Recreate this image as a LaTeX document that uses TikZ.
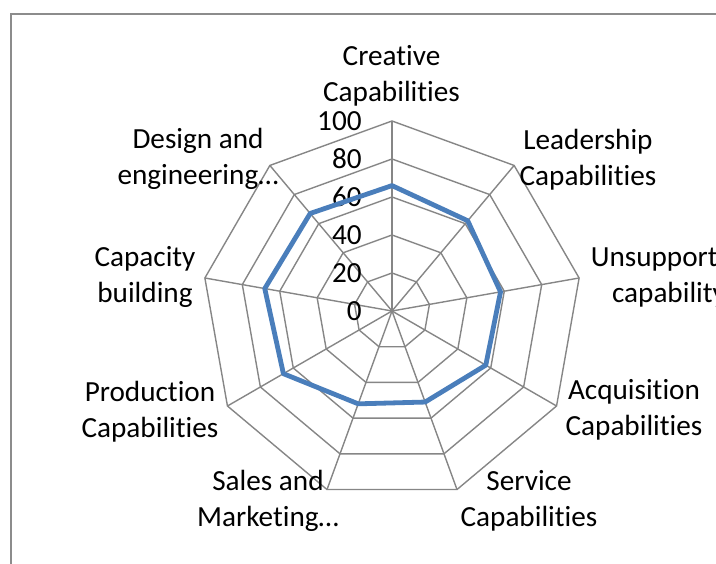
\documentclass[tikz,border=0pt]{standalone}
\usepackage{fontspec}
\setmainfont{Carlito}[Ligatures=NoCommon]
\usepackage{xcolor}
\usepackage{tikz}

\definecolor{gridgray}{RGB}{134,134,134}
\definecolor{framegray}{RGB}{140,140,140}
\definecolor{serieblue}{RGB}{74,126,187}

\tikzset{
  gridline/.style={draw=gridgray, line width=0.7bp, line join=miter},
  valaxis/.style={draw=gridgray, line width=1bp},
  serie/.style={draw=serieblue, line width=2.4bp, line join=round},
  lbl/.style={align=center, inner sep=0pt, font=\fontsize{14.6bp}{18bp}\selectfont},
  tick/.style={anchor=east, inner sep=0pt, font=\fontsize{14.6bp}{18bp}\selectfont}
}

\begin{document}
\begin{tikzpicture}[x=0.5bp,y=0.5bp]
                    \clip (0,0) rectangle (716,564);
                    \draw[framegray, line width=1bp] (11,0) -- (11,550) -- (716,550);
                    \begin{scope}[shift={(392,253)}]
                    \coordinate (c) at (0,0);
                    % rings at 20, 40, 60, 80, 100
                    \foreach \r in {38,76,114,152,190}
                        \draw[gridline] (90:\r) -- (50:\r) -- (10:\r) -- (-30:\r) -- (-70:\r)
                            -- (-110:\r) -- (-150:\r) -- (-190:\r) -- (-230:\r) -- cycle;
                    % spokes
                    \foreach \a in {50,10,-30,-70,-110,-150,-190,-230}
                        \draw[gridline] (c) -- (\a:190);
                    \draw[valaxis] (c) -- (90:190);
                    % ticks
                    \foreach \v in {0,20,...,100}
                        \node[tick] (t\v) at (-30,1.9*\v) {\v};
                    % series
                    \draw[serie] (90:125.4) -- (50:117.8) -- (10:110.2) -- (-30:108.3) -- (-70:96.9)
                        -- (-110:98.8) -- (-150:125.4) -- (-190:129.2) -- (-230:127.3) -- cycle;
                    % category labels
                    \node[lbl] (crea) at (-0.5,235) {Creative\\Capabilities};
                    \node[lbl] (lead) at (196,151) {Leadership\\Capabilities};
                    \node[lbl] (unsu) at (277,34) {Unsupported\\capability};
                    \node[lbl] (acqu) at (242,-99) {Acquisition\\Capabilities};
                    \node[lbl] (serv) at (137,-190) {Service\\Capabilities};
                    \node[lbl] (sale) at (-124,-190) {Sales and\\Marketing…};
                    \node[lbl] (prod) at (-242,-101) {Production\\Capabilities};
                    \node[lbl] (capa) at (-247,34) {Capacity\\building};
                    \node[lbl] (desi) at (-194,152) {Design and\\engineering…};
                    \end{scope}
\end{tikzpicture}
\end{document}
